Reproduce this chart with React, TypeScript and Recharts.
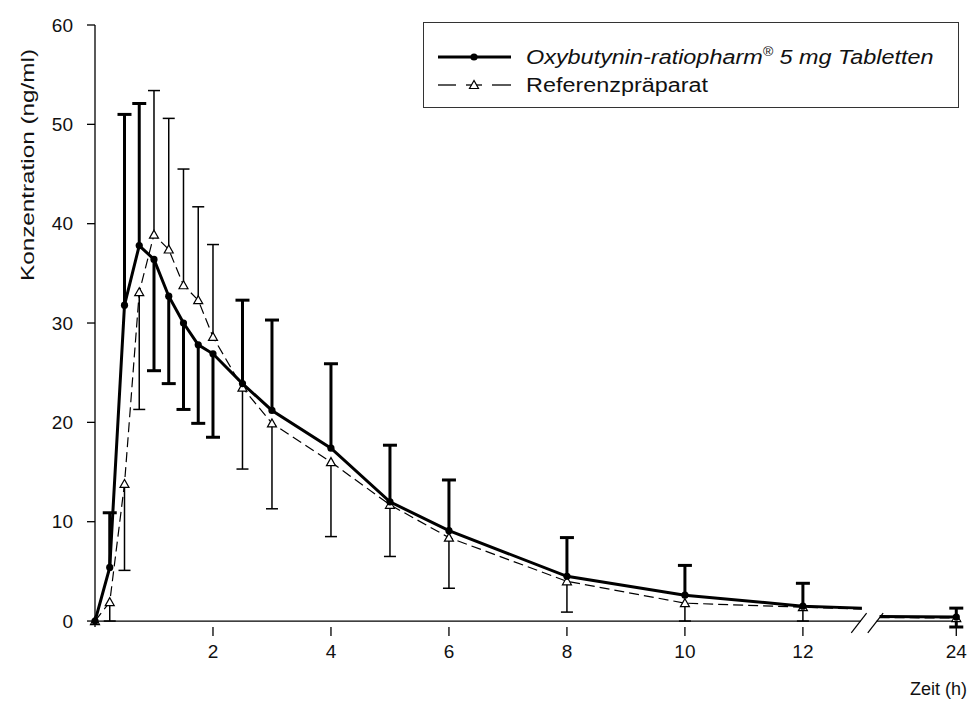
import { ComposedChart, Line, XAxis, YAxis, ErrorBar, Scatter, ReferenceLine, Legend } from 'recharts'

const FONT = '"Liberation Sans", Arial, sans-serif'

// sampling times in hours
const times = [0, 0.25, 0.5, 0.75, 1, 1.25, 1.5, 1.75, 2, 2.5, 3, 4, 5, 6, 8, 10, 12, 24]

// Oxybutynin-ratiopharm 5 mg (mean, SD drawn up or down)
const testMean = [0, 5.4, 31.8, 37.8, 36.4, 32.7, 30.0, 27.8, 26.9, 23.9, 21.2, 17.4, 12.0, 9.1, 4.5, 2.6, 1.5, 0.4]
const testErrUp = [0, 5.5, 19.2, 14.3, 0, 0, 0, 0, 0, 8.4, 9.1, 8.5, 5.7, 5.1, 3.9, 3.0, 2.3, 0.9]
const testErrDown = [0, 0, 0, 0, 11.2, 8.8, 8.7, 7.9, 8.4, 0, 0, 0, 0, 0, 0, 0, 0, 1.0]

// Referenzpräparat
const refMean = [0, 1.9, 13.8, 33.1, 38.9, 37.4, 33.8, 32.3, 28.6, 23.5, 19.9, 16.0, 11.7, 8.4, 4.0, 1.8, 1.4, 0.3]
const refErrUp = [0, 0, 0, 0, 14.5, 13.2, 11.7, 9.4, 9.3, 0, 0, 0, 0, 0, 0, 0, 0, 0]
const refErrDown = [0, 1.9, 8.7, 11.8, 0, 0, 0, 0, 0, 8.2, 8.6, 7.5, 5.2, 5.1, 3.1, 1.8, 1.4, 0]

// where the curves run into / out of the axis break
const breakEdgeTimes = [13, 22.7]
const testBreakEdge = [1.3, 0.45]
const refBreakEdge = [1.2, 0.35]

const xTickTimes = [2, 4, 6, 8, 10, 12, 24]
const yTicks = [0, 10, 20, 30, 40, 50, 60]

// broken time axis: 0..13 h, then 22.7..24 h
const BREAK_FROM = 13
const BREAK_TO = 22.7
const GAP = 0.3
const X_MAX = 14.68

const toAxis = (t: number) => (t <= BREAK_FROM ? t : t - BREAK_TO + BREAK_FROM + GAP)
const fromAxis = (x: number) => (x <= BREAK_FROM ? x : x + BREAK_TO - BREAK_FROM - GAP)

type Row = { x: number; y: number; err: number[]; marker: boolean }

function buildRows(mean: number[], up: number[], down: number[], edge: number[]) {
  const rows: Row[] = times.map((t, i) => ({ x: toAxis(t), y: mean[i], err: [down[i], up[i]], marker: true }))
  const head = rows.filter((_r, i) => times[i] < BREAK_FROM)
  const tail = rows.filter((_r, i) => times[i] > BREAK_FROM)
  head.push({ x: toAxis(breakEdgeTimes[0]), y: edge[0], err: [0, 0], marker: false })
  tail.unshift({ x: toAxis(breakEdgeTimes[1]), y: edge[1], err: [0, 0], marker: false })
  return { head, tail, all: rows }
}

function capsOf(rows: Row[]) {
  const out: { x: number; y: number }[] = []
  rows.forEach((r) => {
    if (r.err[1] > 0) out.push({ x: r.x, y: r.y + r.err[1] })
    if (r.err[0] > 0) out.push({ x: r.x, y: r.y - r.err[0] })
  })
  return out
}

const test = buildRows(testMean, testErrUp, testErrDown, testBreakEdge)
const ref = buildRows(refMean, refErrUp, refErrDown, refBreakEdge)
const testCaps = capsOf(test.all)
const refCaps = capsOf(ref.all)

const testDot = (p: any) =>
  p.payload && p.payload.marker ? (
    <circle key={`td-${p.index}-${p.cx}`} cx={p.cx} cy={p.cy} r={3.6} fill="#000" />
  ) : (
    <g key={`td-${p.index}-${p.cx}`} />
  )

const refDot = (p: any) =>
  p.payload && p.payload.marker ? (
    <polygon
      key={`rd-${p.index}-${p.cx}`}
      points={`${p.cx},${p.cy - 4.5} ${p.cx - 4.5},${p.cy + 3.5} ${p.cx + 4.5},${p.cy + 3.5}`}
      fill="#fff"
      stroke="#000"
      strokeWidth={1.2}
    />
  ) : (
    <g key={`rd-${p.index}-${p.cx}`} />
  )

const capShape = (w: number, sw: number) => (p: any) =>
  <line x1={p.cx - w} x2={p.cx + w} y1={p.cy} y2={p.cy} stroke="#000" strokeWidth={sw} />

function LegendBox() {
  return (
    <div
      style={{
        width: 536,
        height: 86,
        border: '1.5px solid #333',
        background: '#fff',
        boxSizing: 'border-box',
        position: 'relative',
        fontFamily: FONT,
        fontSize: 20,
        color: '#111',
      }}
    >
      <svg width={95} height={86} style={{ position: 'absolute', left: 0, top: 0 }}>
        <line x1={14} x2={87} y1={34} y2={34} stroke="#000" strokeWidth={3} />
        <circle cx={50} cy={34} r={3.6} fill="#000" />
        <line x1={14} x2={32} y1={62} y2={62} stroke="#000" strokeWidth={1.3} />
        <line x1={42} x2={58} y1={62} y2={62} stroke="#000" strokeWidth={1.3} />
        <line x1={68} x2={87} y1={62} y2={62} stroke="#000" strokeWidth={1.3} />
        <polygon points="50,57.5 45.5,65.5 54.5,65.5" fill="#fff" stroke="#000" strokeWidth={1.2} />
      </svg>
      <div
        style={{
          position: 'absolute',
          left: 102,
          top: 34,
          transform: 'translateY(-50%) scaleX(1.17)',
          transformOrigin: 'left center',
          fontStyle: 'italic',
          whiteSpace: 'nowrap',
        }}
      >
        Oxybutynin-ratiopharm<sup style={{ fontSize: 12 }}>®</sup> 5 mg Tabletten
      </div>
      <div
        style={{
          position: 'absolute',
          left: 102,
          top: 62,
          transform: 'translateY(-50%) scaleX(1.17)',
          transformOrigin: 'left center',
          whiteSpace: 'nowrap',
        }}
      >
        Referenzpräparat
      </div>
    </div>
  )
}

const yTitle = () => (
  <text
    x={27}
    y={165}
    transform="rotate(-90, 27, 165)"
    textAnchor="middle"
    dominantBaseline="central"
    fontFamily={FONT}
    fontSize={19}
    fill="#111"
    textLength={232}
    lengthAdjust="spacingAndGlyphs"
  >
    Konzentration (ng/ml)
  </text>
)

const xTitle = () => (
  <text x={967} y={695} textAnchor="end" fontFamily={FONT} fontSize={18} fill="#111">
    Zeit (h)
  </text>
)

export default function App() {
  return (
    <div style={{ position: 'absolute', left: 0, top: 0, background: '#fff' }}>
      <ComposedChart width={970} height={722} margin={{ top: 25, right: 9, left: 0, bottom: 35 }}>
        <XAxis
          type="number"
          dataKey="x"
          domain={[0, X_MAX]}
          ticks={xTickTimes.map(toAxis)}
          tickFormatter={(v: number) => String(Math.round(fromAxis(v)))}
          axisLine={false}
          tickLine={{ stroke: '#000', strokeWidth: 1.3 }}
          tickSize={9}
          tickMargin={9}
          height={60}
          tick={{ fontSize: 19, fill: '#111', fontFamily: FONT }}
          label={xTitle}
        />
        <YAxis
          type="number"
          domain={[0, 60]}
          ticks={yTicks}
          width={95}
          axisLine={{ stroke: '#000', strokeWidth: 1.3 }}
          tickLine={{ stroke: '#000', strokeWidth: 1.3 }}
          tickSize={8}
          tickMargin={14}
          tick={{ fontSize: 19, fill: '#111', fontFamily: FONT }}
          label={yTitle}
        />

        {/* broken x axis line with the // marks */}
        <ReferenceLine segment={[{ x: 0, y: 0 }, { x: 12.98, y: 0 }]} stroke="#000" strokeWidth={1.3} ifOverflow="visible" />
        <ReferenceLine segment={[{ x: 13.25, y: 0 }, { x: X_MAX, y: 0 }]} stroke="#000" strokeWidth={1.3} ifOverflow="visible" />
        <ReferenceLine segment={[{ x: 12.82, y: -1.2 }, { x: 13.08, y: 0.8 }]} stroke="#000" strokeWidth={1.2} ifOverflow="visible" />
        <ReferenceLine segment={[{ x: 13.1, y: -1.2 }, { x: 13.36, y: 0.8 }]} stroke="#000" strokeWidth={1.2} ifOverflow="visible" />

        <Line data={ref.head} dataKey="y" stroke="#000" strokeWidth={1.2} strokeDasharray="10 5" dot={refDot} activeDot={false} isAnimationActive={false} legendType="none">
          <ErrorBar dataKey="err" direction="y" width={0} stroke="#000" strokeWidth={1.5} isAnimationActive={false} />
        </Line>
        <Line data={ref.tail} dataKey="y" stroke="#000" strokeWidth={1.2} strokeDasharray="10 5" dot={refDot} activeDot={false} isAnimationActive={false} legendType="none">
          <ErrorBar dataKey="err" direction="y" width={0} stroke="#000" strokeWidth={1.5} isAnimationActive={false} />
        </Line>
        <Scatter data={refCaps} dataKey="y" shape={capShape(6, 1.5)} isAnimationActive={false} legendType="none" />

        <Line data={test.head} dataKey="y" stroke="#000" strokeWidth={3} dot={testDot} activeDot={false} isAnimationActive={false} legendType="none">
          <ErrorBar dataKey="err" direction="y" width={0} stroke="#000" strokeWidth={3} isAnimationActive={false} />
        </Line>
        <Line data={test.tail} dataKey="y" stroke="#000" strokeWidth={3} dot={testDot} activeDot={false} isAnimationActive={false} legendType="none">
          <ErrorBar dataKey="err" direction="y" width={0} stroke="#000" strokeWidth={3} isAnimationActive={false} />
        </Line>
        <Scatter data={testCaps} dataKey="y" shape={capShape(7, 3)} isAnimationActive={false} legendType="none" />

        <Legend
          layout="vertical"
          align="center"
          verticalAlign="middle"
          wrapperStyle={{ left: 423, top: 22, width: 536, height: 86 }}
          content={() => <LegendBox />}
        />
      </ComposedChart>
    </div>
  )
}
